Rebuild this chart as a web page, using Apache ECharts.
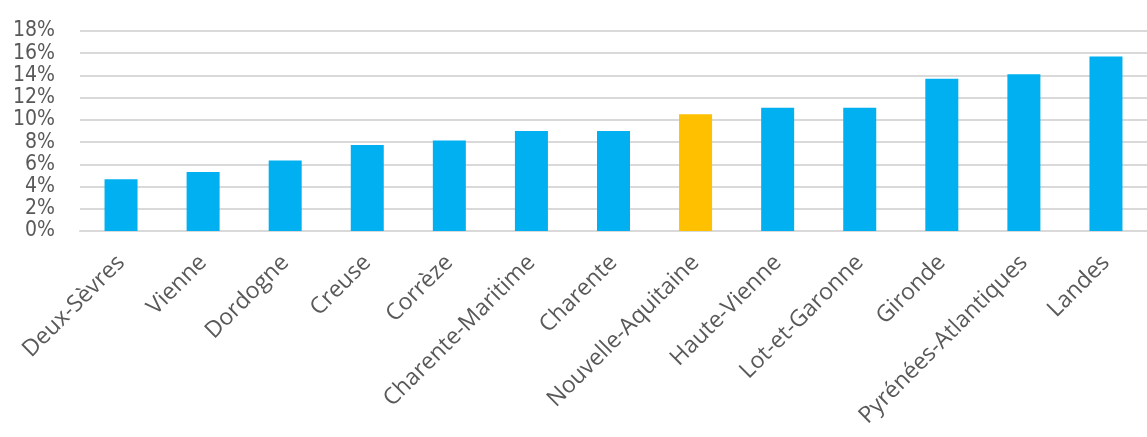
<!DOCTYPE html>
<html><head><meta charset="utf-8">
<script src="https://cdn.jsdelivr.net/npm/echarts@6/dist/echarts.min.js"></script>
<style>html,body{margin:0;padding:0;background:#fff}#c{width:1147px;height:437px}</style>
</head><body><div id="c"></div>
<script>
const categories = ['Deux-Sèvres','Vienne','Dordogne','Creuse','Corrèze','Charente-Maritime','Charente','Nouvelle-Aquitaine','Haute-Vienne','Lot-et-Garonne','Gironde','Pyrénées-Atlantiques','Landes'];
const values = [4.65, 5.3, 6.35, 7.75, 8.15, 9.0, 9.0, 10.5, 11.1, 11.1, 13.7, 14.1, 15.7];
const highlight = ['Nouvelle-Aquitaine'];
const yTicks = [0, 2, 4, 6, 8, 10, 12, 14, 16, 18];

const chart = echarts.init(document.getElementById('c'));
chart.setOption({
  animation: false,
  grid: { left: 80, top: 31, width: 1077, height: 200, containLabel: false },
  xAxis: {
    type: 'category', data: categories,
    axisTick: { show: false },
    axisLine: { lineStyle: { color: '#d9d9d9', width: 2 } },
    axisLabel: { rotate: 45, interval: 0, margin: 28, color: '#595959', fontSize: 23, fontFamily: 'Open Sans' }
  },
  yAxis: {
    type: 'value', min: yTicks[0], max: yTicks[yTicks.length - 1], interval: 2,
    axisLine: { show: false }, axisTick: { show: false },
    splitLine: { lineStyle: { color: '#d9d9d9', width: 2 } },
    axisLabel: { formatter: v => v + '%', color: '#595959', fontSize: 21, margin: 25,
      showMinLabel: true, showMaxLabel: true, hideOverlap: false,
      fontFamily: '"DejaVu Sans Condensed", "DejaVu Sans", sans-serif' }
  },
  series: [{
    type: 'bar', barWidth: 33,
    data: values.map((v, i) => ({ value: v, itemStyle: { color: highlight.includes(categories[i]) ? '#FFC000' : '#00B0F0' } }))
  }]
});
</script></body></html>
